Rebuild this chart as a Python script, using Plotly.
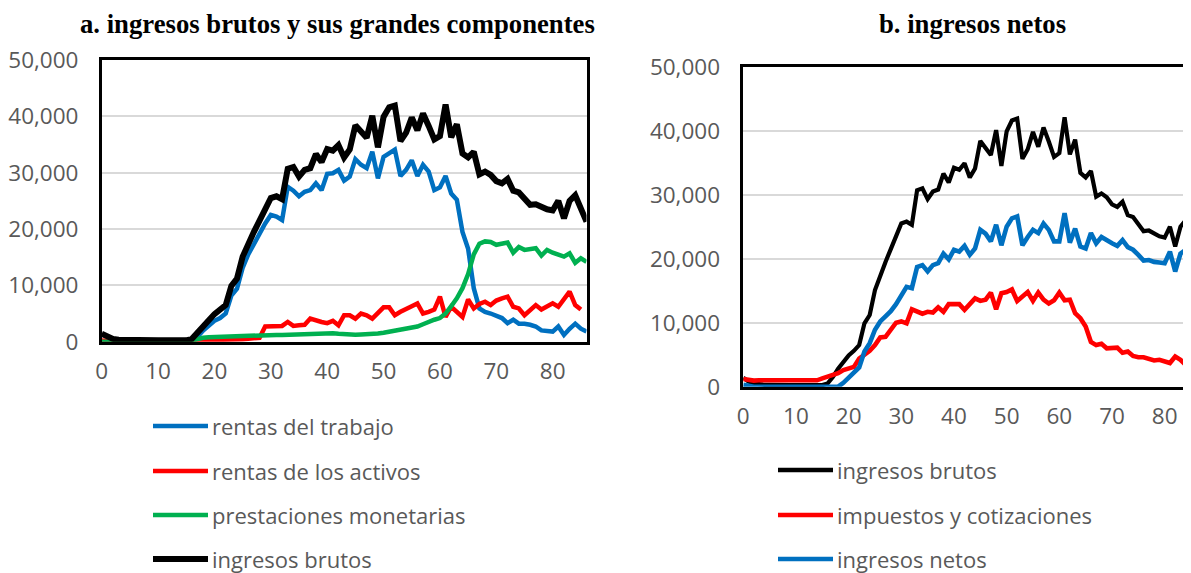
import plotly.graph_objects as go

# edades 0..86
edades = list(range(87))

ingresos_brutos = [1400, 800, 500, 350, 300, 300, 250, 250, 250, 250, 250, 250, 200, 200, 200, 250,
                   500, 1500, 2800, 3800, 4900, 5600, 6500, 9900, 11200, 15100, 17500, 19500, 21500, 23500,
                   25500, 25800, 25300, 30700, 31000, 29300, 30500, 30800, 33300, 31900, 34200, 33900,
                   34900, 32700, 34100, 38400, 37400, 36200, 40100, 34500, 39900, 41600, 41900, 35600,
                   37100, 39800, 37500, 40500, 38300, 35900, 36500, 42100, 36300, 38600, 33400, 32700,
                   33700, 29700, 30200, 29600, 28500, 28100, 28900, 26800, 26500, 25400, 24300, 24400,
                   23900, 23500, 23300, 25000, 21900, 25000, 26000, 23500, 21300]

rentas_trabajo = [100, 50] + [0] * 14 + [
    300, 900, 2000, 2800, 3700, 4200, 5000, 8200, 9400, 13100, 15500, 17300, 19200, 21000,
    22500, 22200, 21600, 27500, 26800, 25800, 26600, 26900, 28100, 26900, 29800, 29900, 30500,
    28600, 29300, 32400, 31400, 30800, 33700, 29000, 32800, 33500, 34100, 29400, 30500, 32200,
    29400, 31400, 30200, 26900, 27400, 29400, 26300, 25200, 19500, 16500, 9500, 5900, 5300,
    5000, 4700, 4200, 3300, 3900, 3200, 3200, 3000, 2700, 2000, 1900, 1800, 2700, 1200, 2300,
    3200, 2300, 1800]

rentas_activos = [200] + [100] * 16 + [
    150, 200, 250, 300, 300, 350, 400, 400, 450, 500, 600, 700,
    2700, 2700, 2700, 2800, 3500, 2800, 2900, 3000, 4100, 3700, 3500, 3300, 3700, 2900, 4700,
    4700, 4100, 5000, 4700, 4100, 5000, 6100, 6100, 4700, 5300, 5900, 6300, 6800, 5000, 5300,
    5700, 8000, 4400, 6200, 5300, 4400, 7500, 5900, 6700, 7100, 6500, 7300, 7700, 8000, 6200,
    5900, 4700, 5600, 6500, 5700, 6200, 6800, 6200, 7500, 8900, 6500, 5700]

prestaciones = [0] * 16 + [
    200, 500, 700, 800, 850, 900, 950, 1000, 1000, 1050, 1000, 1050, 1100, 1100, 1150, 1200,
    1200, 1250, 1250, 1300, 1250, 1250, 1300, 1350, 1450, 1500, 1400, 1300, 1250, 1250, 1300,
    1300, 1350, 1450, 1600, 1800, 1950, 2050, 2300, 2500, 2700, 3100, 3600, 3900, 4200, 5000,
    6300, 7700, 9500, 12000, 15500, 17400, 17800, 17700, 17200, 17400, 17600, 15800, 16800,
    16300, 16400, 16600, 15300, 16300, 15800, 15500, 15100, 15700, 14000, 14800, 14200]

impuestos = [1200, 1000, 950] + [1000] * 12 + [
    1300, 1600, 1800, 2100, 2600, 2900, 3100, 4400, 4900, 5600, 6500, 7700, 7800, 8900,
    10000, 10200, 9900, 12100, 11700, 11400, 11700, 11600, 12400, 11700, 12900, 12900, 12900,
    12000, 12800, 13800, 13400, 13600, 14700, 12100, 14600, 14800, 15200, 13400, 14100, 14800,
    13400, 14700, 13600, 13000, 13500, 14700, 13500, 13600, 11500, 10700, 9400, 7000, 6500,
    6700, 6000, 6000, 6100, 5300, 5500, 4800, 4600, 4600, 4400, 4100, 4200, 3900, 3700, 4700,
    4200, 3400, 3000]

ingresos_netos = [300, 100] + [0] * 17 + [
    600, 1400, 2100, 3000, 5500, 6800, 8900, 10200, 11000, 11800, 12900, 14300, 15600, 15400,
    18700, 19000, 18000, 19000, 19300, 20800, 19900, 21400, 21100, 22000, 20600, 21600, 24500,
    23900, 22700, 25300, 22100, 25000, 26300, 26600, 22100, 23400, 24500, 24000, 25500, 24500,
    22700, 22700, 27100, 22500, 24700, 21900, 21600, 24000, 22400, 23400, 22800, 22400, 22000,
    22900, 21800, 21400, 20600, 19700, 19800, 19500, 19400, 19300, 21100, 18000, 20800, 21400,
    19300, 18300]

AZUL = "#0070C0"
ROJO = "#FF0000"
VERDE = "#00B050"
NEGRO = "#000000"
GRIS = "#595959"

# la página deja 8 px de margen, así que la figura es algo menor que la ventana
OFF = 8
W, H = 1191 - OFF, 573 - OFF


def px_x(p):
    return (p - OFF) / W


def px_y(p):
    return 1 - (p - OFF) / H


fig = go.Figure()

# panel a
panel_a = [("rentas del trabajo", rentas_trabajo, AZUL, 4.5),
           ("rentas de los activos", rentas_activos, ROJO, 4.5),
           ("prestaciones monetarias", prestaciones, VERDE, 4.5),
           ("ingresos brutos", ingresos_brutos, NEGRO, 6)]
for nombre, vals, color, ancho in panel_a:
    fig.add_trace(go.Scatter(x=edades, y=vals, mode="lines", name=nombre,
                             line=dict(color=color, width=ancho),
                             xaxis="x", yaxis="y", showlegend=False))

# panel b
panel_b = [("ingresos brutos", ingresos_brutos, NEGRO, 4.2),
           ("impuestos y cotizaciones", impuestos, ROJO, 4.6),
           ("ingresos netos", ingresos_netos, AZUL, 4.6)]
for nombre, vals, color, ancho in panel_b:
    fig.add_trace(go.Scatter(x=edades, y=vals, mode="lines", name=nombre,
                             line=dict(color=color, width=ancho),
                             xaxis="x2", yaxis="y2", showlegend=False))

tick_font = dict(family="Open Sans", size=22.5, color=GRIS)

eje_x = dict(tick0=0, dtick=10, showgrid=False, zeroline=False, ticks="",
             tickfont=tick_font, showline=True, linecolor="black", linewidth=2.5,
             mirror=True, ticklabelstandoff=8, fixedrange=True, automargin=False)
eje_y = dict(range=[0, 50000], dtick=10000, tickformat=",", showgrid=True,
             gridcolor="#d9d9d9", gridwidth=1.5, zeroline=False, ticks="",
             tickfont=tick_font, showline=True, linecolor="black", linewidth=2.5,
             ticklabelstandoff=16, fixedrange=True, automargin=False)

fig.update_layout(
    width=W, height=H,
    margin=dict(l=0, r=0, t=0, b=0, autoexpand=False),
    paper_bgcolor="white", plot_bgcolor="white",
    xaxis=dict(eje_x, domain=[px_x(101.7), px_x(586.5)], range=[0, 86], anchor="y"),
    yaxis=dict(eje_y, domain=[px_y(341.7), px_y(60)], mirror=True, anchor="x"),
    xaxis2=dict(eje_x, domain=[px_x(743.3), 1.0], range=[0, 85], anchor="y2"),
    yaxis2=dict(eje_y, domain=[px_y(386.7), px_y(66.7)], mirror=False, anchor="x2"),
)

# títulos pegados al borde superior de la figura
titulo_font = dict(family="Liberation Serif", size=26.7, color="black")
fig.add_annotation(text="<b>a. ingresos brutos y sus grandes componentes</b>",
                   x=px_x(337), y=1.0, xref="paper", yref="paper", borderpad=0,
                   xanchor="center", yanchor="top", showarrow=False, font=titulo_font)
fig.add_annotation(text="<b>b. ingresos netos</b>",
                   x=px_x(972), y=1.0, xref="paper", yref="paper", borderpad=0,
                   xanchor="center", yanchor="top", showarrow=False, font=titulo_font)

# leyendas
leyenda_font = dict(family="Open Sans", size=22, color=GRIS)
leyenda_a = [("rentas del trabajo", AZUL, 4.5, 426),
             ("rentas de los activos", ROJO, 4.5, 471),
             ("prestaciones monetarias", VERDE, 4.5, 515),
             ("ingresos brutos", NEGRO, 6, 559)]
leyenda_b = [("ingresos brutos", NEGRO, 4.5, 470),
             ("impuestos y cotizaciones", ROJO, 4.5, 515),
             ("ingresos netos", AZUL, 4.5, 559)]

for items, x0, x1, xt in [(leyenda_a, 153, 208, 210), (leyenda_b, 778, 833, 835)]:
    for texto, color, ancho, yy in items:
        fig.add_shape(type="line", xref="paper", yref="paper",
                      x0=px_x(x0), x1=px_x(x1), y0=px_y(yy), y1=px_y(yy),
                      line=dict(color=color, width=ancho))
        fig.add_annotation(text=texto, x=px_x(xt), y=px_y(yy), xref="paper", yref="paper",
                           xanchor="left", yanchor="middle", showarrow=False,
                           font=leyenda_font)

fig.write_html("out.html")
